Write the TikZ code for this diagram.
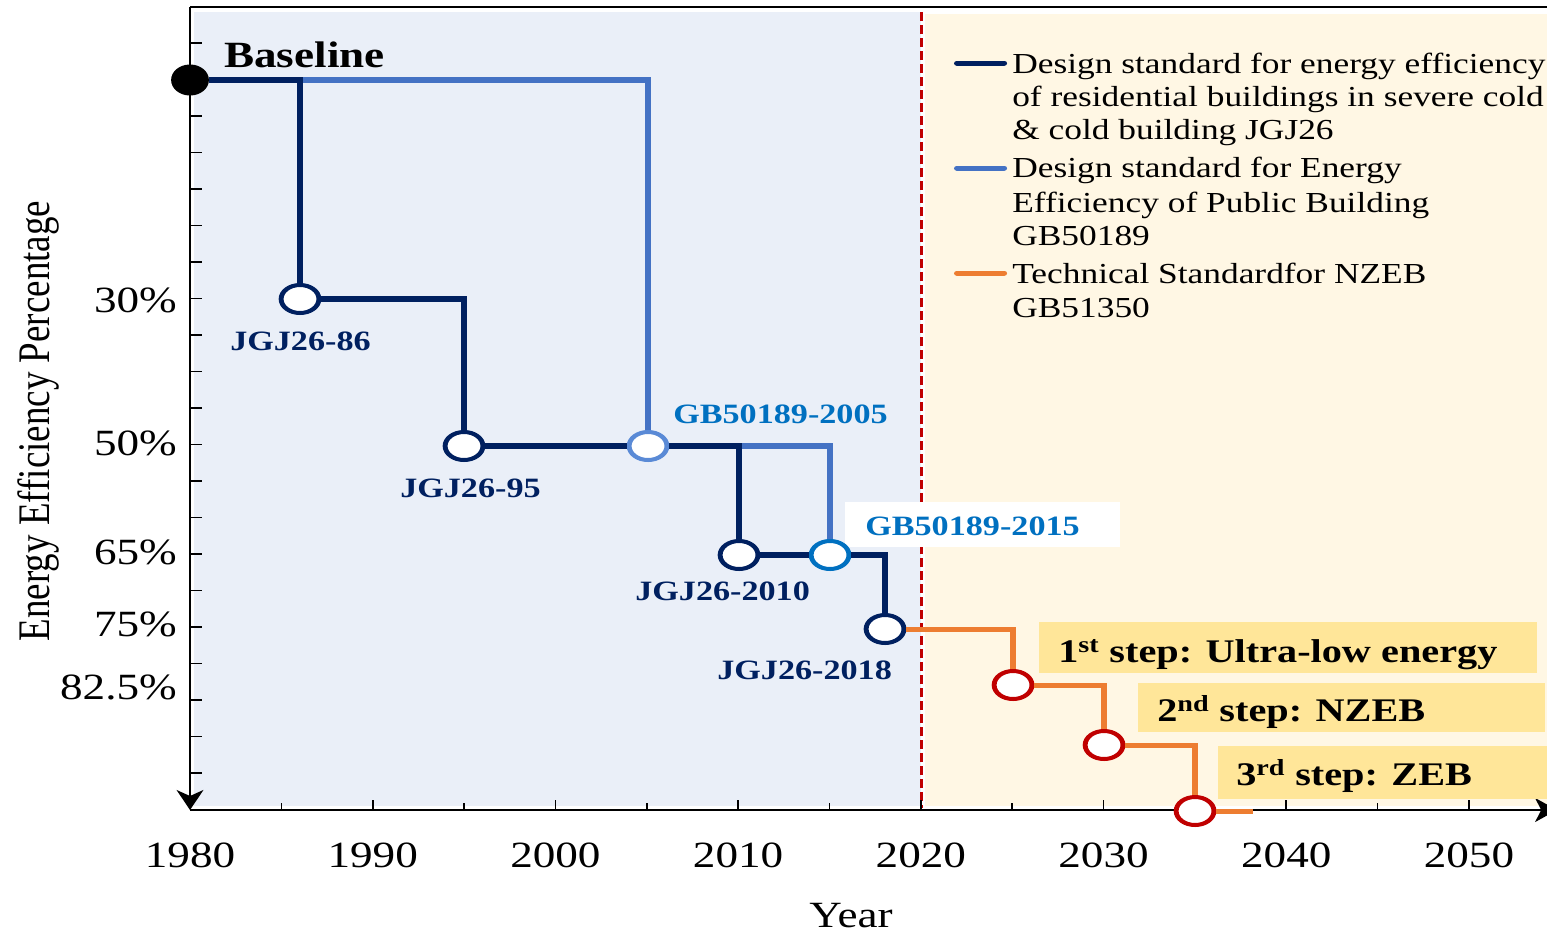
\documentclass[tikz,border=0pt]{standalone}
\usepackage{fontspec}
\setmainfont{Liberation Serif}
\usetikzlibrary{arrows.meta,shapes.geometric}
\definecolor{navy}{HTML}{002060}
\definecolor{gbline}{HTML}{4472C4}
\definecolor{gbring}{HTML}{5A8AD6}
\definecolor{gbtext}{HTML}{0070C0}
\definecolor{orng}{HTML}{ED7D31}
\definecolor{redc}{HTML}{C00000}
\definecolor{bgblue}{HTML}{EAEFF8}
\definecolor{bgcream}{HTML}{FFF7E4}
\definecolor{stepfill}{HTML}{FFE699}
\newcommand{\fsz}[1]{\fontsize{#1}{#1}\selectfont}
\tikzset{
  ring/.style={ellipse, draw, fill=white, line width=4pt, minimum width=31pt, minimum height=28pt, inner sep=0pt},
  dotnode/.style={circle, fill=black, minimum size=31pt, inner sep=0pt},
  jline/.style={draw=navy, line width=5.5pt, line join=miter},
  gline/.style={draw=gbline, line width=5.5pt, line join=miter},
  oline/.style={draw=orng, line width=5pt, line join=miter},
  lab/.style={font=\bfseries\fsz{28}, text=navy, inner sep=0pt, anchor=base west},
  gblab/.style={lab, text=gbtext},
  steplab/.style={font=\bfseries\fsz{33}, inner sep=0pt, anchor=base west},
  leglab/.style={font=\fsz{29}, inner sep=0pt, anchor=base west},
  ticklab/.style={font=\fsz{37}, inner sep=0pt},
  axisline/.style={line width=1.6pt, black},
  tickmark/.style={line width=1.3pt, black},
}
\begin{document}
\begin{tikzpicture}
\useasboundingbox (0pt,0pt) rectangle (1547pt,-932pt);
\begin{scope}[transform canvas={xscale=1.22}, x={(0.8197pt,0pt)}, y={(0pt,-1pt)}]
% backgrounds
\fill[bgblue] (194,12) rectangle (921,806);
\fill[bgcream] (925,14) rectangle (1570,806);
\draw[redc, line width=2.5pt, dash pattern=on 9pt off 4pt] (921,12) -- (921,808);
% frame and axes
\draw[axisline] (190,7) -- (1570,7);
\foreach \k in {0,...,20} \draw[tickmark] (190,{43+36.5*\k}) -- (202,{43+36.5*\k});
\foreach \yr in {1985,1995,...,2045} \draw[tickmark] ({190+18.27*(\yr-1980)},810) -- ++(0,-7);
\foreach \yr in {1990,2000,...,2050} \draw[tickmark] ({190+18.27*(\yr-1980)},810) -- ++(0,-10);
\draw[axisline, -{Stealth[length=20pt,width=22pt,inset=6pt]}] (190,7) -- (190,810);
\draw[axisline, -{Stealth[length=18pt,width=24pt,inset=5pt]}] (190,810) -- (1557,810);
% axis labels
\foreach \yr in {1980,1990,...,2050} \node[ticklab, anchor=base] (yr\yr) at ({190+18.27*(\yr-1980)},867) {\yr};
\node[ticklab, anchor=base] (xtitle) at (851,927) {Year};
\node[ticklab, anchor=base, rotate=90] (ytitle) at (49,421) {Energy Efficiency Percentage};
\node[ticklab, anchor=base east] (y30) at (177,312) {30\%};
\node[ticklab, anchor=base east] (y50) at (177,455) {50\%};
\node[ticklab, anchor=base east] (y65) at (177,564) {65\%};
\node[ticklab, anchor=base east] (y75) at (177,636) {75\%};
\node[ticklab, anchor=base east] (y825) at (177,699) {82.5\%};
% white box behind GB50189-2015
\fill[white] (845,502) rectangle (1120,547);
% step boxes
\fill[stepfill] (1039,622) rectangle (1537,673);
\fill[stepfill] (1138,683) rectangle (1545,732);
\fill[stepfill] (1218,746) rectangle (1570,799);
% nodes
\node[dotnode] (base) at (190,80) {};
\node[ring, draw=navy] (j86) at (300,299) {};
\node[ring, draw=navy] (j95) at (464,446) {};
\node[ring, draw=gbring] (gb05) at (648,446) {};
\node[ring, draw=navy] (j10) at (739,555) {};
\node[ring, draw=gbtext] (gb15) at (830,555) {};
\node[ring, draw=navy] (j18) at (885,629) {};
\node[ring, draw=redc] (s1) at (1013,685) {};
\node[ring, draw=redc] (s2) at (1104,745) {};
\node[ring, draw=redc] (s3) at (1195,811) {};
\coordinate (k86) at (j86 |- base);
\coordinate (k10) at (j10 |- gb05);
\coordinate (oend) at (1253,811);
% connectors
\draw[gline] (k86) -| (gb05);
\draw[gline] (k10) -| (gb15);
\draw[jline] (base) -| (j86);
\draw[jline] (j86) -| (j95);
\draw[jline] (j95) -- (gb05);
\draw[jline] (gb05) -| (j10);
\draw[jline] (j10) -- (gb15);
\draw[jline] (gb15) -| (j18);
\draw[oline] (j18) -| (s1);
\draw[oline] (s1) -| (s2);
\draw[oline] (s2) -| (s3);
\draw[oline] (s3) -- (oend);
% labels
\node[font=\bfseries\fsz{37}, inner sep=0pt, anchor=base west] (tbase) at (224,67) {Baseline};
\node[lab] (l86) at (230,350) {JGJ26-86};
\node[lab] (l95) at (400,497) {JGJ26-95};
\node[gblab] (lgb05) at (673,423) {GB50189-2005};
\node[lab] (l10) at (635,600) {JGJ26-2010};
\node[gblab] (lgb15) at (865,535) {GB50189-2015};
\node[lab] (l18) at (717,679) {JGJ26-2018};
\node[steplab] (t1) at (1058,662) {1\textsuperscript{st} step: Ultra-low energy};
\node[steplab] (t2) at (1157,721) {2\textsuperscript{nd} step: NZEB};
\node[steplab] (t3) at (1236,785) {3\textsuperscript{rd} step: ZEB};
% legend
\coordinate (la1) at (957,63); \coordinate (lb1) at (1004,63);
\coordinate (la2) at (957,168); \coordinate (lb2) at (1004,168);
\coordinate (la3) at (957,273); \coordinate (lb3) at (1004,273);
\draw[jline, line width=5pt, line cap=round] (la1) -- (lb1);
\draw[gline, line width=5pt, line cap=round] (la2) -- (lb2);
\draw[oline, line cap=round] (la3) -- (lb3);
\node[leglab] (g1a) at (1012,73) {Design standard for energy efficiency};
\node[leglab] (g1b) at (1012,106) {of residential buildings in severe cold};
\node[leglab] (g1c) at (1012,139) {\& cold building JGJ26};
\node[leglab] (g2a) at (1012,177) {Design standard for Energy};
\node[leglab] (g2b) at (1012,212) {Efficiency of Public Building};
\node[leglab] (g2c) at (1012,245) {GB50189};
\node[leglab] (g3a) at (1012,283) {Technical Standardfor NZEB};
\node[leglab] (g3b) at (1012,317) {GB51350};
\end{scope}
\end{tikzpicture}
\end{document}
